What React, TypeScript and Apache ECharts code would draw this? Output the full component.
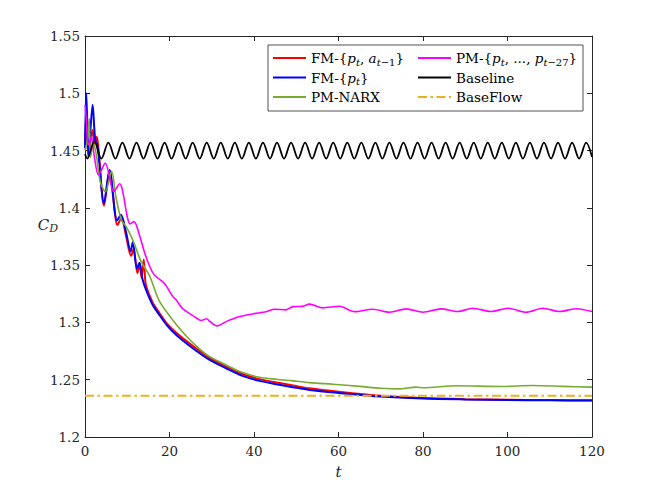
import React, { useEffect, useRef } from "react";
import * as echarts from "echarts";

const FONT = "DejaVu Serif";
const AXIS_COLOR = "#262626";

// time / C_D pairs
const fmPA: [number, number][] = [
  [0, 1.452], [0.3, 1.482], [0.8, 1.444], [1.8, 1.468], [2.3, 1.456], [2.8, 1.462], [3.3, 1.447],
  [4.5, 1.402], [5.8, 1.432], [7.7, 1.385], [8.6, 1.391], [9.8, 1.374], [10.9, 1.358], [11.5, 1.364],
  [12.4, 1.343], [12.9, 1.35], [13.4, 1.339], [13.9, 1.355], [14.3, 1.335], [14.7, 1.329], [16, 1.3175],
  [17.6, 1.3085], [19.5, 1.2985], [21.6, 1.291], [25.5, 1.2795], [29.5, 1.269], [33.4, 1.2615],
  [37.3, 1.255], [41.3, 1.2505], [45.3, 1.2475], [49.2, 1.245], [53.1, 1.2425], [60, 1.2395],
  [70, 1.236], [80, 1.234], [90, 1.233], [100, 1.2325], [110, 1.2322], [120, 1.232],
];

const fmP: [number, number][] = [
  [0, 1.452], [0.3, 1.5], [0.85, 1.446], [1.8, 1.49], [2.4, 1.46], [3.0, 1.453], [4.5, 1.404],
  [5.8, 1.433], [7.6, 1.389], [8.5, 1.394], [9.7, 1.379], [10.8, 1.362], [11.3, 1.37], [12.3, 1.347],
  [12.9, 1.352], [13.6, 1.338], [14.5, 1.328], [16, 1.3155], [17.6, 1.3066], [19.5, 1.297],
  [21.6, 1.289], [25.5, 1.2775], [29.5, 1.2673], [33.4, 1.26], [37.3, 1.2533], [41.3, 1.249],
  [45.3, 1.2461], [49.2, 1.2435], [53.1, 1.2411], [60, 1.2385], [70, 1.2353], [80, 1.2336],
  [90, 1.2328], [100, 1.2323], [110, 1.232], [120, 1.2318],
];

const pmNarx: [number, number][] = [
  [0, 1.45], [0.6, 1.46], [1.0, 1.478], [1.3, 1.444], [2.0, 1.456], [2.6, 1.448], [3.6, 1.423],
  [4.8, 1.414], [6.3, 1.432], [7.3, 1.41], [8.6, 1.3894], [9.75, 1.3836], [11.3, 1.372], [13.3, 1.353],
  [15.3, 1.3405], [17.6, 1.3185], [20.8, 1.302], [24, 1.288], [27.1, 1.277], [29.5, 1.2702],
  [33.4, 1.2629], [37.3, 1.2562], [41.3, 1.2522], [45.3, 1.2504], [49.2, 1.249], [53.1, 1.2475],
  [58.7, 1.246], [65, 1.2442], [70, 1.2426], [74.4, 1.242], [78.4, 1.2435], [80, 1.243], [88, 1.2447],
  [98.6, 1.2441], [106, 1.2449], [113, 1.2442], [120, 1.2435],
];

const pmHist: [number, number][] = [
  [0, 1.49], [0.3, 1.478], [0.8, 1.455], [1.5, 1.462], [2.2, 1.445], [3.2, 1.4287], [4.8, 1.439],
  [6.8, 1.414], [8.2, 1.421], [10.7, 1.386], [11.6, 1.388], [12.9, 1.376], [14.1, 1.361], [15.3, 1.349],
  [16.4, 1.3414], [18.8, 1.334], [20.8, 1.3225], [21.6, 1.3196], [23.1, 1.312], [25.5, 1.306],
  [27.5, 1.3017], [28.8, 1.3032], [29.5, 1.301], [31.3, 1.297], [33.4, 1.3007], [36.6, 1.3051],
  [39.7, 1.3074], [42.9, 1.3094], [44.9, 1.3115], [47.6, 1.311], [49.2, 1.3138], [51.5, 1.314],
  [53.1, 1.316], [56.3, 1.3127], [60.2, 1.3141], [63.8, 1.3094], [68.1, 1.3115], [72.1, 1.3089],
  [76, 1.3118], [80, 1.3089], [84.3, 1.3118], [88.2, 1.3095], [91.8, 1.3124], [96.1, 1.3095],
  [100.1, 1.3124], [104.4, 1.3089], [108.4, 1.3124], [112.3, 1.3095], [116.3, 1.312], [120, 1.3095],
];

// Baseline: extrema sampled every half period (troughs / peaks alternate)
const baselineStart: [number, number] = [0, 1.447];
const baselineT0 = 0.54;
const baselineHalfPeriod = 1.663;
const baselineExtrema = [
  1.443, 1.458, 1.443, 1.457, 1.443, 1.457, 1.443, 1.457, 1.443, 1.457,
  1.443, 1.457, 1.443, 1.457, 1.443, 1.457, 1.443, 1.457, 1.443, 1.457,
  1.443, 1.457, 1.443, 1.457, 1.443, 1.457, 1.443, 1.457, 1.443, 1.457,
  1.443, 1.457, 1.443, 1.457, 1.443, 1.457, 1.443, 1.457, 1.443, 1.457,
  1.443, 1.457, 1.443, 1.457, 1.443, 1.457, 1.443, 1.457, 1.443, 1.457,
  1.443, 1.457, 1.443, 1.457, 1.443, 1.457, 1.443, 1.457, 1.443, 1.457,
  1.443, 1.457, 1.443, 1.457, 1.443, 1.457, 1.443, 1.457, 1.443, 1.457,
  1.443, 1.457,
];
const baselineEnd: [number, number] = [120, 1.4445];

const baseFlowValue = 1.236;

const xRange = { min: 0, max: 120, interval: 20 };
const yRange = { min: 1.2, max: 1.55, interval: 0.05 };

const names = {
  fmPA: "FM-{p_t, a_{t-1}}",
  fmP: "FM-{p_t}",
  narx: "PM-NARX",
  hist: "PM-{p_t, ..., p_{t-27}}",
  base: "Baseline",
  flow: "BaseFlow",
};

const legendLabels: Record<string, string> = {
  [names.fmPA]: "{r|FM-{}{i|p}{s|t}{r|, }{i|a}{s|t}{sr|−1}}",
  [names.fmP]: "{r|FM-{}{i|p}{s|t}}",
  [names.narx]: "{r|PM-NARX}",
  [names.hist]: "{r|PM-{}{i|p}{s|t}{r|, ..., }{i|p}{s|t}{sr|−27}}",
  [names.base]: "{r|Baseline}",
  [names.flow]: "{r|BaseFlow}",
};

const FS = 13.5;
const SUB = 10;

const rich = {
  r: { fontFamily: FONT, fontSize: FS, lineHeight: 18, color: "#000" },
  i: { fontFamily: FONT, fontSize: FS, lineHeight: 18, fontStyle: "italic", color: "#000" },
  s: { fontFamily: FONT, fontSize: SUB, lineHeight: 10, fontStyle: "italic", verticalAlign: "bottom", color: "#000" },
  sr: { fontFamily: FONT, fontSize: SUB, lineHeight: 10, verticalAlign: "bottom", color: "#000" },
};

function makeAxis(extra: any, range: any, withLabels: boolean) {
  return {
    type: "value",
    min: range.min,
    max: range.max,
    interval: range.interval,
    splitLine: { show: false },
    axisLine: { show: true, onZero: false, lineStyle: { color: AXIS_COLOR, width: 1 } },
    axisTick: { show: true, inside: true, length: 5, lineStyle: { color: AXIS_COLOR, width: 1 } },
    axisLabel: withLabels
      ? { show: true, color: AXIS_COLOR, fontFamily: FONT, fontSize: FS }
      : { show: false },
    ...extra,
  };
}

export default function App() {
  const ref = useRef<HTMLDivElement>(null);
  useEffect(() => {
    if (!ref.current) return;
    const chart = echarts.init(ref.current, undefined, { renderer: "svg" });
    const baselineData: [number, number][] = [
      baselineStart,
      ...baselineExtrema.map((v, i) => [baselineT0 + i * baselineHalfPeriod, v] as [number, number]),
      baselineEnd,
    ];
    const lineSeries = (name: string, data: any, color: string, width: number, smooth: number, type: any = "solid") => ({
      name,
      type: "line",
      data,
      showSymbol: false,
      symbol: "none",
      smooth,
      xAxisIndex: 0,
      yAxisIndex: 0,
      lineStyle: { color, width, type },
      itemStyle: { color },
      emphasis: { disabled: true },
    });
    const legendCommon = {
      orient: "vertical",
      top: 49,
      padding: 0,
      itemGap: 1.5,
      itemWidth: 33,
      itemHeight: 14,
      selectedMode: false,
      itemStyle: { opacity: 0 },
      formatter: (n: string) => legendLabels[n] || n,
      textStyle: { fontFamily: FONT, fontSize: FS, lineHeight: 18, color: "#000", rich },
    };
    chart.setOption({
      animation: false,
      textStyle: { fontFamily: FONT },
      grid: { left: 85, right: 62, top: 36, bottom: 54, containLabel: false },
      xAxis: [
        makeAxis(
          {
            position: "bottom",
            name: "t",
            nameLocation: "middle",
            nameGap: 27,
            nameMoveOverlap: false,
            nameTextStyle: { fontFamily: FONT, fontSize: 15, fontStyle: "italic", color: AXIS_COLOR },
            axisLabel: { show: true, color: AXIS_COLOR, fontFamily: FONT, fontSize: FS, margin: 7 },
          },
          xRange,
          true
        ),
        makeAxis({ position: "top" }, xRange, false),
      ],
      yAxis: [
        makeAxis(
          {
            position: "left",
            name: "{c|C}{d|D}",
            nameLocation: "middle",
            nameRotate: 0,
            nameGap: 27,
            nameMoveOverlap: false,
            nameTextStyle: {
              padding: [0, 0, 23, 0],
              rich: {
                c: { fontFamily: FONT, fontSize: 15, lineHeight: 18, fontStyle: "italic", color: AXIS_COLOR },
                d: { fontFamily: FONT, fontSize: 11, lineHeight: 10, fontStyle: "italic", verticalAlign: "bottom", color: AXIS_COLOR },
              },
            },
            axisLabel: { show: true, color: AXIS_COLOR, fontFamily: FONT, fontSize: FS, margin: 5 },
          },
          yRange,
          true
        ),
        makeAxis({ position: "right" }, yRange, false),
      ],
      legend: [
        { ...legendCommon, left: 272, data: [names.fmPA, names.fmP, names.narx] },
        { ...legendCommon, left: 417, data: [names.hist, names.base, names.flow] },
      ],
      graphic: [
        {
          type: "rect",
          z: 3,
          shape: { x: 268, y: 45, width: 315, height: 66 },
          style: { fill: "#fff", stroke: AXIS_COLOR, lineWidth: 0.8 },
        },
      ],
      series: [
        lineSeries(names.fmPA, fmPA, "#ff0000", 2, 0.3),
        lineSeries(names.fmP, fmP, "#0000ff", 2, 0.3),
        lineSeries(names.narx, pmNarx, "#77ac30", 1.6, 0.3),
        lineSeries(names.hist, pmHist, "#ff00ff", 1.6, 0.3),
        lineSeries(names.base, baselineData, "#000000", 1.8, 0.35),
        lineSeries(names.flow, [[xRange.min, baseFlowValue], [xRange.max, baseFlowValue]], "#edb120", 1.8, 0, [9, 3.5, 2.5, 3.5]),
      ],
    });
    return () => chart.dispose();
  }, []);
  return (
    <div
      ref={ref}
      style={{ position: "fixed", left: 0, top: 0, width: 654, height: 491, background: "#fff" }}
    />
  );
}
